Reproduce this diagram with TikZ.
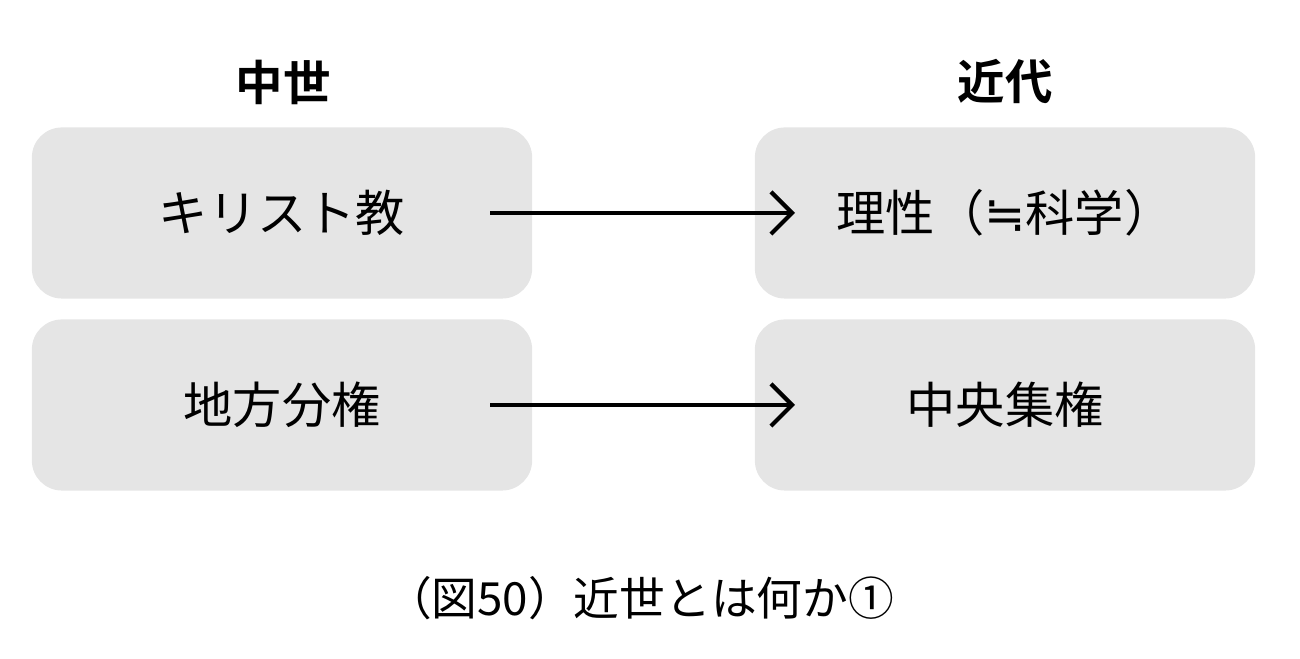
\documentclass[tikz,border=0pt]{standalone}
\usepackage{fontspec}
\usetikzlibrary{arrows.meta}
\newfontfamily\cjk[BoldFont={Noto Sans CJK JP Bold}]{Noto Sans CJK JP}
\newfontfamily\symb{DejaVu Sans}
\begin{document}
\begin{tikzpicture}[x=0.01cm,y=-0.01cm,
  box/.style={fill=black!10,rounded corners=0.3cm,minimum width=5cm,minimum height=1.71cm,font=\cjk\fontsize{14}{16}\selectfont},
  head/.style={font=\cjk\bfseries\fontsize{13.5}{16}\selectfont},
  arr/.style={-{Straight Barb[length=6pt,width=12pt,line width=1.2pt]},line width=1.2pt}]
\useasboundingbox (0,0) rectangle (1300,659);
\node[head] (mid) at (283,82) {中世};
\node[head] (mod) at (1005,82) {近代};
\node[box] (chr) at (282,213) {キリスト教};
\node[box] (loc) at (282,405) {地方分権};
\node[box] (rea) at (1005,213) {理性（{\symb ≒}科学）};
\node[box] (cen) at (1005,405) {中央集権};
\coordinate (a1) at (490,213);
\coordinate (a2) at (795,213);
\coordinate (b1) at (490,405);
\coordinate (b2) at (795,405);
\draw[arr] (a1) -- (a2);
\draw[arr] (b1) -- (b2);
\node[font=\cjk\fontsize{13}{16}\selectfont] (cap) at (640,598) {（図50）近世とは何か①};
\end{tikzpicture}
\end{document}
